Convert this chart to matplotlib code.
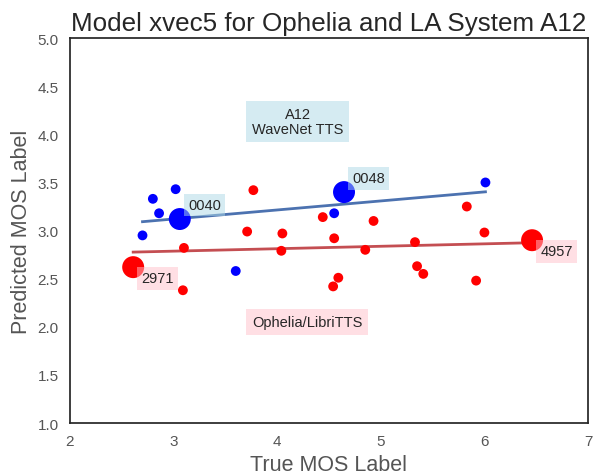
import matplotlib.pyplot as plt
import numpy as np

plt.rcParams['font.family'] = ['Liberation Sans', 'DejaVu Sans']

# A12 WaveNet TTS (blue)
a12_true = [2.80, 3.02, 2.86, 2.70, 3.06, 3.60, 4.55, 4.645, 6.01]
a12_pred = [3.33, 3.43, 3.18, 2.95, 3.12, 2.58, 3.18, 3.40, 3.50]
a12_big = [False, False, False, False, True, False, False, True, False]

# Ophelia / LibriTTS (red)
oph_true = [3.77, 3.71, 4.05, 3.10, 4.04, 2.61, 3.09, 4.44, 4.55, 4.59,
            4.54, 5.83, 4.93, 6.00, 5.33, 4.85, 6.46, 5.35, 5.41, 5.92]
oph_pred = [3.42, 2.99, 2.97, 2.82, 2.79, 2.62, 2.38, 3.14, 2.92, 2.51,
            2.42, 3.25, 3.10, 2.98, 2.88, 2.80, 2.90, 2.63, 2.55, 2.48]
oph_big = [False] * 20
oph_big[5] = True
oph_big[16] = True

a12_labels = {4: '0040', 7: '0048'}
oph_labels = {5: '2971', 16: '4957'}

fig, ax = plt.subplots(figsize=(5.93, 4.77), dpi=100)
fig.subplots_adjust(left=0.118, right=0.9916, top=0.918, bottom=0.111)

def draw_group(x, y, big, color, line_color):
    x = np.array(x)
    y = np.array(y)
    sizes = np.where(big, 250, 50)
    ax.scatter(x, y, s=sizes, c=color, linewidths=0, zorder=3)
    # least squares fit, drawn across the range of the group
    k, b = np.polyfit(x, y, 1)
    xs = np.array([x.min(), x.max()])
    ax.plot(xs, k * xs + b, color=line_color, lw=2, zorder=2)

draw_group(a12_true, a12_pred, a12_big, 'blue', '#4c72b0')
draw_group(oph_true, oph_pred, oph_big, 'red', '#c44e52')

for i, lab in a12_labels.items():
    ax.annotate(lab, (a12_true[i], a12_pred[i]), xytext=(6, 5), textcoords='offset points',
                ha='left', va='bottom', fontsize=10.5, color='#262626', zorder=4,
                bbox=dict(boxstyle='square,pad=0.3', fc='lightblue', ec='none', alpha=0.5))
for i, lab in oph_labels.items():
    ax.annotate(lab, (oph_true[i], oph_pred[i]), xytext=(6, -3), textcoords='offset points',
                ha='left', va='top', fontsize=10.5, color='#262626', zorder=4,
                bbox=dict(boxstyle='square,pad=0.3', fc='pink', ec='none', alpha=0.5))

ax.text(4.20, 4.13, 'A12\nWaveNet TTS', ha='center', va='center', fontsize=10.5,
        color='#262626', linespacing=1.1,
        bbox=dict(boxstyle='square,pad=0.4', fc='lightblue', ec='none', alpha=0.5))
ax.text(4.29, 2.05, 'Ophelia/LibriTTS', ha='center', va='center', fontsize=10.5,
        color='#262626',
        bbox=dict(boxstyle='square,pad=0.4', fc='pink', ec='none', alpha=0.5))

ax.set_xlim(2, 7)
ax.set_ylim(1, 5)
ax.set_xticks(np.arange(2, 8, 1))
ax.set_yticks(np.arange(1.0, 5.5, 0.5))
ax.tick_params(length=0, labelsize=11, labelcolor='#555555', pad=8)
for s in ax.spines.values():
    s.set_color('#262626')
    s.set_linewidth(1.25)

ax.set_xlabel('True MOS Label', fontsize=15.5, color='#555555')
ax.set_ylabel('Predicted MOS Label', fontsize=15.5, color='#555555')
ax.set_title('Model xvec5 for Ophelia and LA System A12', fontsize=18.7, color='#262626')

fig.savefig('out.png')
